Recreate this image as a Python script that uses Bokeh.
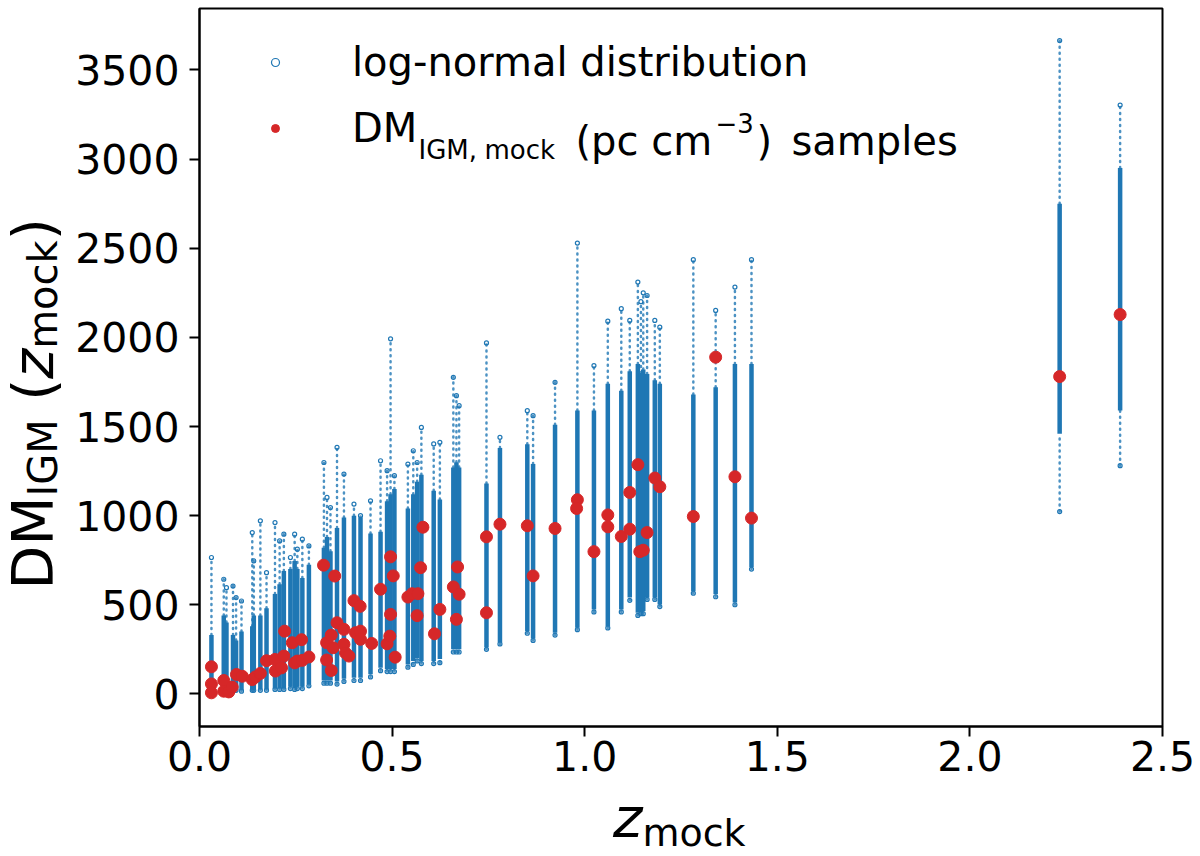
from bokeh.plotting import figure
from bokeh.models import (ColumnDataSource, Range1d, FixedTicker, NumeralTickFormatter,
                          Label, Legend, LegendItem, Div)
from bokeh.layouts import row, column
from bokeh.embed import file_html
from bokeh.resources import INLINE

# log-normal sample columns, one per mock redshift
# (sparse min, dense low, dense high, sparse max)
col_z = [0.031, 0.063, 0.070, 0.087, 0.095, 0.109, 0.137, 0.141, 0.158, 0.174,
         0.196, 0.208, 0.219, 0.236, 0.247, 0.254, 0.267, 0.284, 0.323, 0.331,
         0.340, 0.357, 0.375, 0.401, 0.418, 0.444, 0.470, 0.487, 0.496, 0.506,
         0.541, 0.555, 0.565, 0.576, 0.608, 0.624, 0.659, 0.667, 0.674, 0.745,
         0.780, 0.851, 0.866, 0.923, 0.981, 1.024, 1.060, 1.095, 1.117, 1.138,
         1.146, 1.152, 1.162, 1.182, 1.195, 1.282, 1.340, 1.390, 1.433, 2.233,
         2.390]
col_min = [10, 10, 10, 15, 20, 15, 20, 20, 20, 20,
           25, 25, 25, 30, 25, 30, 30, 45, 60, 60,
           60, 55, 70, 75, 75, 95, 130, 125, 125, 125,
           150, 165, 185, 170, 170, 175, 235, 235, 235, 250,
           280, 340, 300, 330, 360, 460, 370, 460, 525, 440,
           450, 450, 530, 530, 490, 565, 545, 500, 700, 1023,
           1280]
col_lo = [20, 15, 15, 20, 25, 20, 25, 25, 25, 25,
          30, 30, 30, 40, 35, 40, 40, 55, 75, 75,
          75, 70, 85, 90, 90, 110, 146, 140, 140, 140,
          165, 184, 200, 185, 185, 195, 250, 250, 250, 262,
          290, 352, 310, 343, 371, 474, 380, 474, 540, 455,
          460, 465, 540, 540, 502, 577, 559, 512, 712, 1460,
          1590]
col_hi = [330, 440, 400, 330, 300, 350, 380, 440, 440, 480,
          560, 615, 690, 700, 745, 700, 650, 725, 820, 880,
          800, 930, 990, 1000, 990, 900, 910, 1080, 1120, 1150,
          1040, 1120, 1190, 1230, 1140, 1090, 1270, 1300, 1270, 1180,
          1380, 1400, 1290, 1510, 1590, 1590, 1740, 1700, 1810, 1850,
          1800, 1820, 1795, 1760, 1740, 1680, 1720, 1850, 1850, 2750,
          2950]
col_max = [765, 643, 596, 605, 540, 521, 905, 746, 971, 680,
           961, 858, 896, 765, 896, 812, 868, 830, 1298, 1102,
           1045, 1383, 1233, 1065, 1000, 1083, 1308, 1252, 1992, 1224,
           1289, 1364, 1298, 1495, 1402, 1411, 1776, 1673, 1617, 1969,
           1439, 1589, 1561, 1748, 2529, 1842, 2091, 2161, 2095, 2310,
           2200, 2250, 2235, 2095, 2057, 2436, 2151, 2282, 2436, 3665,
           3303]

# DM_IGM,mock samples (pc cm^-3)
mock_z = [0.031, 0.031, 0.031, 0.063, 0.063, 0.076, 0.085, 0.096, 0.111, 0.137,
          0.145, 0.158, 0.174, 0.196, 0.197, 0.213, 0.219, 0.221, 0.241, 0.247,
          0.254, 0.265, 0.267, 0.284, 0.322, 0.351, 0.330, 0.342, 0.330, 0.342,
          0.347, 0.357, 0.375, 0.375, 0.379, 0.388, 0.401, 0.417, 0.405, 0.418,
          0.418, 0.447, 0.470, 0.487, 0.494, 0.496, 0.496, 0.503, 0.508, 0.541,
          0.552, 0.567, 0.565, 0.574, 0.580, 0.610, 0.624, 0.659, 0.670, 0.674,
          0.667, 0.745, 0.745, 0.780, 0.851, 0.866, 0.923, 0.981, 0.979, 1.024,
          1.060, 1.060, 1.095, 1.117, 1.117, 1.138, 1.143, 1.152, 1.162, 1.182,
          1.195, 1.282, 1.340, 1.390, 1.433, 2.233, 2.390]
mock_dm = [152, 56, 6, 75, 15, 11, 38, 109, 99, 80,
           95, 115, 186, 193, 128, 146, 212, 352, 287, 174,
           184, 304, 188, 207, 722, 661, 287, 330, 190, 131,
           259, 399, 362, 278, 230, 212, 523, 491, 343, 352,
           306, 283, 587, 281, 324, 446, 769, 662, 206, 543,
           562, 562, 439, 708, 935, 337, 474, 600, 712, 559,
           418, 881, 455, 952, 943, 662, 928, 1089, 1040, 798,
           1004, 937, 883, 1130, 924, 1286, 798, 806, 905, 1211,
           1162, 995, 1889, 1218, 986, 1780, 2128]

x_ticks = [0.0, 0.5, 1.0, 1.5, 2.0, 2.5]
y_ticks = [0, 500, 1000, 1500, 2000, 2500, 3000, 3500]

BLUE = "#1f77b4"
RED = "#d62728"
FONT = "DejaVu Sans"

p = figure(width=1130, height=790, output_backend="svg", toolbar_location=None,
           x_range=Range1d(0, 2.5), y_range=Range1d(-183, 3845),
           min_border_left=129, min_border_right=38, min_border_top=8, min_border_bottom=64)
p.xgrid.visible = False
p.ygrid.visible = False
p.outline_line_color = "black"
p.outline_line_width = 2
p.background_fill_color = "white"
p.border_fill_color = "white"

p.xaxis.ticker = FixedTicker(ticks=x_ticks)
p.xaxis.formatter = NumeralTickFormatter(format="0.0")
p.yaxis.ticker = FixedTicker(ticks=y_ticks)
p.yaxis.formatter = NumeralTickFormatter(format="0")
for ax in (p.xaxis, p.yaxis):
    ax.axis_line_width = 2
    ax.major_tick_line_width = 2
    ax.major_tick_out = 10
    ax.major_tick_in = 0
    ax.minor_tick_line_color = None
    ax.major_label_text_font = FONT
    ax.major_label_text_font_size = "41px"
    ax.major_label_text_color = "black"
p.xaxis.major_label_standoff = 4
p.yaxis.major_label_standoff = 10

src = ColumnDataSource(data=dict(z=col_z, mn=col_min, lo=col_lo, hi=col_hi, mx=col_max))

# sparse tails
p.segment(x0="z", y0="hi", x1="z", y1="mx", source=src, line_color=BLUE,
          line_width=2.5, line_dash="1 5", line_cap="round", line_alpha=0.8)
p.segment(x0="z", y0="mn", x1="z", y1="lo", source=src, line_color=BLUE,
          line_width=2.5, line_dash="1 5", line_cap="round", line_alpha=0.8)
# dense part
p.segment(x0="z", y0="lo", x1="z", y1="hi", source=src, line_color=BLUE, line_width=4.5)
r_blue = p.scatter(x=col_z + col_z, y=col_max + col_min, size=4, marker="circle",
                   fill_color=None, line_color=BLUE, line_width=1.2)

r_red = p.scatter(x=mock_z, y=mock_dm, size=12, marker="circle",
                  fill_color=RED, line_color=RED)

legend = Legend(items=[LegendItem(label="log-normal distribution", renderers=[r_blue]),
                       LegendItem(label="DM", renderers=[r_red])],
                location=(66, 573), margin=0, padding=0, spacing=16,
                glyph_width=20, glyph_height=50, label_height=50, label_standoff=67,
                border_line_color=None, background_fill_alpha=0,
                label_text_font=FONT, label_text_font_size="40px", label_text_color="black")
p.add_layout(legend)


def add_text(x, y, txt, size):
    p.add_layout(Label(x=x, y=y, x_units="screen", y_units="screen", text=txt,
                       text_font=FONT, text_font_size=f"{size}px",
                       text_align="left", text_baseline="alphabetic", text_color="black"))


# rest of the second legend entry
add_text(219, 577, "IGM,", 26)
add_text(285, 577, "mock", 26)
add_text(376, 586, "(pc cm", 40)
add_text(516, 604, "\u22123", 26)
add_text(557, 586, ")", 40)
add_text(592, 586, "samples", 40)

# axis titles as html text
ylab = Div(width=70, height=790, margin=0, text=(
    '<div style="position:relative;width:70px;height:790px;">'
    '<div style="position:absolute;left:0px;bottom:200px;writing-mode:vertical-rl;'
    'transform:rotate(180deg);white-space:nowrap;font-family:\'DejaVu Sans\';'
    'font-size:57px;line-height:normal;color:black;">'
    'DM<span style="font-size:40px;vertical-align:-10px;">IGM</span>'
    '&nbsp;(<i>z</i><span style="font-size:40px;vertical-align:-10px;">mock</span>)'
    '</div></div>'))
xlab = Div(width=1200, height=66, margin=0, text=(
    '<div style="position:relative;width:1200px;height:66px;">'
    '<div style="position:absolute;left:613px;top:0px;white-space:nowrap;'
    'font-family:\'DejaVu Sans\';font-size:56px;line-height:56px;color:black;">'
    '<i>z</i><span style="font-size:38px;vertical-align:-9px;">mock</span>'
    '</div></div>'))

layout = column(row(ylab, p, spacing=0), xlab, spacing=0)

open("out.html", "w").write(file_html(layout, INLINE))
